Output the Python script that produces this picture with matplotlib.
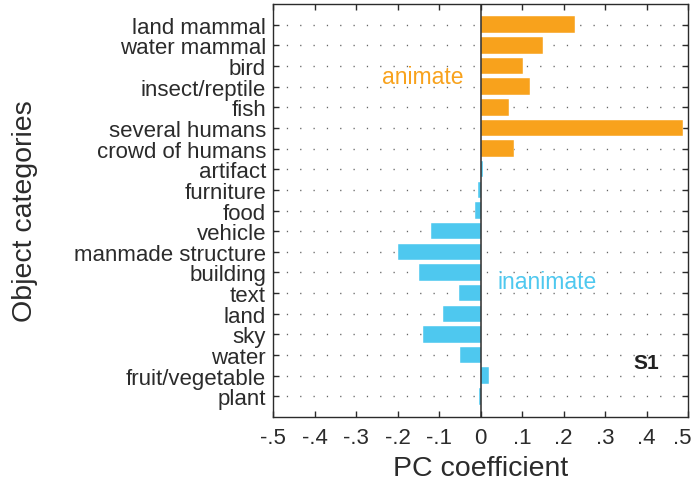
import numpy as np
import matplotlib
matplotlib.use("Agg")
import matplotlib.pyplot as plt
import matplotlib.transforms as mtransforms

plt.rcParams['font.family'] = ['Liberation Sans', 'DejaVu Sans']

categories = ["land mammal", "water mammal", "bird", "insect/reptile", "fish",
              "several humans", "crowd of humans", "artifact", "furniture", "food",
              "vehicle", "manmade structure", "building", "text", "land", "sky",
              "water", "fruit/vegetable", "plant"]
coefs = [0.228, 0.151, 0.103, 0.120, 0.068, 0.488, 0.080, 0.006, -0.007, -0.014,
         -0.120, -0.200, -0.149, -0.051, -0.091, -0.139, -0.049, 0.021, -0.004]
is_animate = [True] * 7 + [False] * 12

xticks = [-0.5, -0.4, -0.3, -0.2, -0.1, 0, 0.1, 0.2, 0.3, 0.4, 0.5]
xtick_labels = ["-.5", "-.4", "-.3", "-.2", "-.1", "0", ".1", ".2", ".3", ".4", ".5"]

orange = "#F8A21C"
blue = "#4EC8EF"
ink = "#2b2b2b"

fig = plt.figure(figsize=(6.94, 4.85), dpi=100)
ax = fig.add_axes([0.3934, 0.1381, 0.598, 0.8516])

ypos = np.arange(1, len(categories) + 1)
colors = [orange if a else blue for a in is_animate]

# dotted guide lines at each category
for y in ypos:
    ax.axhline(y, color="#666666", lw=1.0, ls=(0, (0.9, 8.7)), zorder=0)

ax.barh(ypos, coefs, height=0.8, color=colors, edgecolor="white", linewidth=0.3, zorder=2)
ax.axvline(0, color=ink, lw=1.1, zorder=3)

ax.set_xlim(-0.5, 0.5)
ax.set_ylim(20, 0)
ax.set_xticks(xticks)
ax.set_xticklabels(xtick_labels)
ax.set_yticks(ypos)
ax.set_yticklabels(categories)

ax.tick_params(axis="both", direction="in", length=4.5, width=1.0, color=ink,
               labelcolor=ink, labelsize=16)
ax.tick_params(axis="x", top=True, pad=7)
ax.tick_params(axis="y", right=True, pad=5)
for s in ax.spines.values():
    s.set_color(ink)
    s.set_linewidth(1.0)

# keep the rightmost tick label inside the figure
last = ax.get_xticklabels()[-1]
last.set_transform(last.get_transform() +
                   mtransforms.ScaledTranslation(-4 / 72, 0, fig.dpi_scale_trans))

ax.set_xlabel("PC coefficient", fontsize=20.5, color=ink, labelpad=5)
ax.set_ylabel("Object categories", fontsize=20.5, color=ink, labelpad=26)

ax.text(-0.04, 3.5, "animate", color=orange, fontsize=16.5, ha="right", va="center")
ax.text(0.04, 13.45, "inanimate", color=blue, fontsize=16.5, ha="left", va="center")
ax.text(0.40, 17.36, "S1", color="#222222", fontsize=15, fontweight="bold",
        ha="center", va="center")

fig.savefig("out.png", dpi=100)
